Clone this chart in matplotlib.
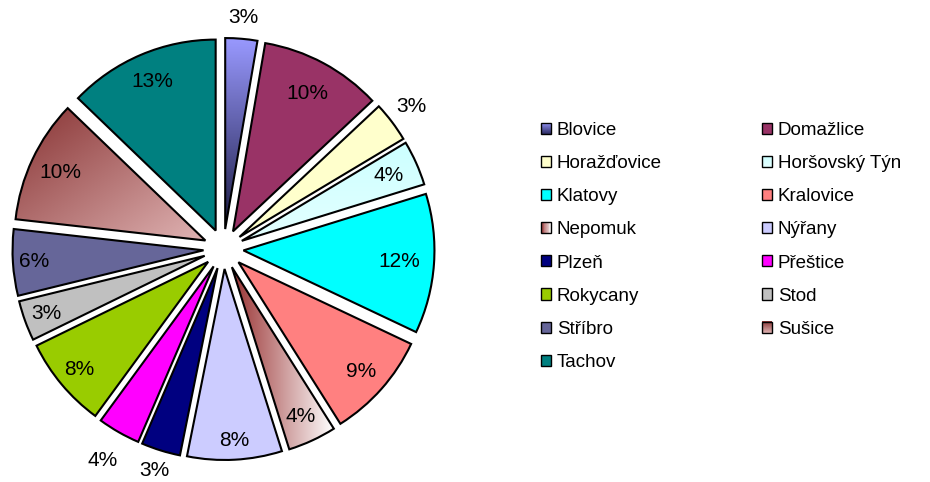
import numpy as np
import matplotlib
matplotlib.use('Agg')
import matplotlib.pyplot as plt
from matplotlib.patches import Patch, Rectangle
from matplotlib.legend_handler import HandlerBase
from matplotlib.colors import to_rgb

plt.rcParams['font.family'] = ['Liberation Sans', 'DejaVu Sans']

# ---- data ----
districts = ['Blovice', 'Domažlice', 'Horažďovice', 'Horšovský Týn', 'Klatovy',
             'Kralovice', 'Nepomuk', 'Nýřany', 'Plzeň', 'Přeštice', 'Rokycany',
             'Stod', 'Stříbro', 'Sušice', 'Tachov']
shares = [2.7, 10.3, 3.4, 3.8, 11.8, 9.0, 4.1, 8.0, 3.3, 3.6, 7.7, 3.4, 5.6, 10.4, 12.8]

# ---- style ----
colors = ['#9999FF', '#993366', '#FFFFCC', '#CCFFFF', '#00FFFF', '#FF8080', '#C08080',
          '#CCCCFF', '#000080', '#FF00FF', '#99CC00', '#C0C0C0', '#666699', '#B06666',
          '#008080']
# gradient fills: index -> (start colour, end colour, direction)
gradients = {0: ('#9999FF', '#1C1C44', 'v'),
             3: ('#CCFFFF', '#E4FFFF', 'v'),
             6: ('#993333', '#FFFFFF', 'h'),
             13: ('#883333', '#E0B4B4', 'd')}
label_dist = [1.11, 0.82, 1.13, 0.84, 0.82, 0.86, 0.86, 0.90, 1.11, 1.17, 0.88, 0.88,
              0.89, 0.84, 0.85]

W, H = 930, 482
fig = plt.figure(figsize=(W / 100, H / 100), dpi=100)
ax = fig.add_axes([0, 0, 1, 1])
cx, cy = 223.5, H - 249
R = 191
EXPL = 20

wedges, _ = ax.pie(shares, colors=colors, startangle=90, counterclock=False,
                   radius=R, center=(cx, cy), explode=[EXPL] * len(shares),
                   wedgeprops=dict(edgecolor='black', linewidth=1.5))

for i, (c0, c1, mode) in gradients.items():
    w = wedges[i]
    ext = w.get_path().get_extents()
    n = 256
    t = np.linspace(0, 1, n)
    if mode == 'v':
        T = np.repeat(t[:, None], n, axis=1)
    elif mode == 'h':
        T = np.repeat(t[None, :], n, axis=0)
    else:
        T = (t[None, :] + t[:, None]) / 2
    a, b = np.array(to_rgb(c0)), np.array(to_rgb(c1))
    img = (1 - T)[..., None] * a + T[..., None] * b
    im = ax.imshow(img, extent=(ext.x0, ext.x1, ext.y0, ext.y1), origin='upper',
                   interpolation='bilinear', zorder=0.9)
    im.set_clip_path(w)
    w.set_facecolor('none')

total = sum(shares)
for w, s, d in zip(wedges, shares, label_dist):
    ang = np.deg2rad((w.theta1 + w.theta2) / 2)
    x = w.center[0] + d * R * np.cos(ang)
    y = w.center[1] + d * R * np.sin(ang)
    ax.text(x, y, f'{s / total * 100:.0f}%', ha='center', va='center', fontsize=15,
            color='black', zorder=5)

ax.set_xlim(0, W)
ax.set_ylim(0, H)
ax.set_aspect('equal')
ax.axis('off')


class GradHandler(HandlerBase):
    def __init__(self, c0, c1, mode):
        super().__init__()
        self.c0, self.c1, self.mode = np.array(to_rgb(c0)), np.array(to_rgb(c1)), mode

    def create_artists(self, legend, orig_handle, xdescent, ydescent, width, height,
                       fontsize, trans):
        n = 12
        arts = []
        x0, y0 = -xdescent, -ydescent
        for k in range(n):
            t = (k + 0.5) / n
            col = (1 - t) * self.c0 + t * self.c1
            if self.mode == 'h':
                r = Rectangle((x0 + k * width / n, y0), width / n * 1.1, height)
            else:
                r = Rectangle((x0, y0 + height - (k + 1) * height / n), width, height / n * 1.1)
            r.set_facecolor(col)
            r.set_edgecolor('none')
            r.set_linewidth(0)
            r.set_transform(trans)
            arts.append(r)
        outline = Rectangle((x0, y0), width, height, facecolor='none', edgecolor='black',
                            lw=1.0, transform=trans)
        arts.append(outline)
        return arts


handles = []
hmap = {}
for i, c in enumerate(colors):
    p = Patch(facecolor=c, edgecolor='black', lw=1.0)
    handles.append(p)
    if i in gradients:
        c0, c1, mode = gradients[i]
        if i == 0:
            c1 = '#2A2A60'
        hmap[p] = GradHandler(c0, c1, mode)

fs = 13.5
common = dict(frameon=False, fontsize=fs, handlelength=0.54, handleheight=0.54,
              handletextpad=0.3, labelspacing=0.86, borderpad=0, borderaxespad=0,
              loc='upper left', handler_map=hmap)
col1 = list(range(0, len(districts), 2))
col2 = list(range(1, len(districts), 2))
leg1 = fig.legend([handles[i] for i in col1], [districts[i] for i in col1],
                  bbox_to_anchor=(541 / W, 1 - 122 / H), **common)
leg2 = fig.legend([handles[i] for i in col2], [districts[i] for i in col2],
                  bbox_to_anchor=(762 / W, 1 - 122 / H), **common)

fig.savefig('out.png', dpi=100)
